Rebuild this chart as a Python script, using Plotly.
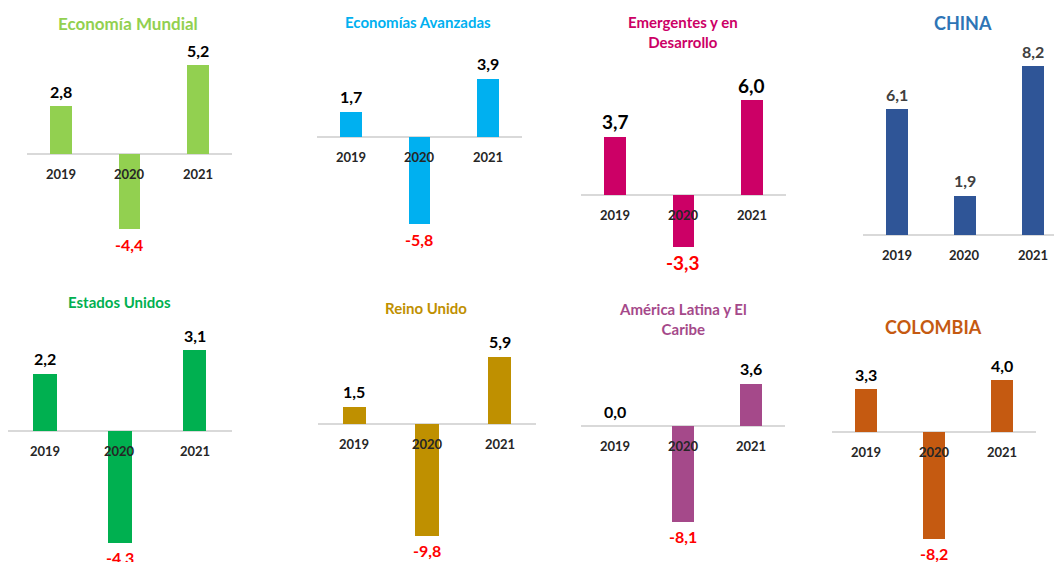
import plotly.graph_objects as go

# ---------------- data ----------------
years = ["2019", "2020", "2021"]
titles = ["Economía Mundial", "Economías Avanzadas", "Emergentes y en<br>Desarrollo", "CHINA",
          "Estados Unidos", "Reino Unido", "América Latina y El<br>Caribe", "COLOMBIA"]
economia_mundial = [2.8, -4.4, 5.2]
economias_avanzadas = [1.7, -5.8, 3.9]
emergentes_desarrollo = [3.7, -3.3, 6.0]
china = [6.1, 1.9, 8.2]
estados_unidos = [2.2, -4.3, 3.1]
reino_unido = [1.5, -9.8, 5.9]
america_latina = [0.0, -8.1, 3.6]
colombia = [3.3, -8.2, 4.0]
series = [economia_mundial, economias_avanzadas, emergentes_desarrollo, china,
          estados_unidos, reino_unido, america_latina, colombia]

# ---------------- styles / layout (pixels) ----------------
W, H = 1054, 562
bar_colors = ["#92D050", "#00B0F0", "#CC0066", "#2F5597", "#00B050", "#BF9000", "#A5498A", "#C55A11"]
title_colors = ["#92D050", "#00B0F0", "#CC0066", "#2E75B6", "#00B050", "#BF9000", "#A5498A", "#C55A11"]
panels = [
    dict(left=27, sp=68.3, zero=154, ppu=17.1, top=0, bot=280, tx=128, ty=23, ts=17, ls=16, lc="#000000"),
    dict(left=317, sp=68.3, zero=137, ppu=15.0, top=0, bot=280, tx=418, ty=22, ts=15, ls=16, lc="#000000"),
    dict(left=581, sp=68.3, zero=195, ppu=15.8, top=0, bot=280, tx=683, ty=32, ts=15, ls=19, lc="#000000"),
    dict(left=862.5, sp=68.0, zero=235, ppu=20.6, top=0, bot=280, tx=963, ty=23, ts=18, ls=16, lc="#404040"),
    dict(left=8, sp=74.6, zero=431, ppu=26.0, top=280, bot=562, tx=119, ty=302, ts=15, ls=16, lc="#000000"),
    dict(left=318, sp=72.7, zero=424, ppu=11.4, top=280, bot=562, tx=426, ty=308, ts=15, ls=16, lc="#000000"),
    dict(left=581, sp=68.0, zero=426, ppu=11.8, top=280, bot=562, tx=683, ty=319, ts=15, ls=16, lc="#000000"),
    dict(left=832, sp=68.0, zero=432, ppu=13.0, top=280, bot=562, tx=933, ty=327, ts=18, ls=16, lc="#000000"),
]
FONT = "Lato"

fig = go.Figure()
annotations = []
for i, (vals, p) in enumerate(zip(series, panels)):
    n = i + 1
    xa = "x" if n == 1 else f"x{n}"
    ya = "y" if n == 1 else f"y{n}"
    fig.add_trace(go.Bar(x=years, y=vals, width=0.32, marker=dict(color=bar_colors[i], line=dict(width=0)),
                         xaxis=xa, yaxis=ya, showlegend=False, hoverinfo="x+y"))
    right = min(p["left"] + 3 * p["sp"], W)
    xr = [-0.5, -0.5 + (right - p["left"]) / p["sp"]]
    yr = [-(p["bot"] - p["zero"]) / p["ppu"], (p["zero"] - p["top"]) / p["ppu"]]
    xkey = "xaxis" if n == 1 else f"xaxis{n}"
    ykey = "yaxis" if n == 1 else f"yaxis{n}"
    fig.layout[xkey] = dict(domain=[p["left"] / W, right / W], range=xr, type="category",
                            showgrid=False, showticklabels=False, zeroline=False, showline=False,
                            ticks="", anchor=ya, fixedrange=True)
    fig.layout[ykey] = dict(domain=[1 - p["bot"] / H, 1 - p["top"] / H], range=yr,
                            showgrid=False, showticklabels=False, zeroline=True,
                            zerolinecolor="#D9D9D9", zerolinewidth=1.5, showline=False,
                            ticks="", anchor=xa, fixedrange=True)
    annotations.append(dict(xref="paper", yref="paper", x=p["tx"] / W, y=1 - p["ty"] / H,
                            text=f"<b>{titles[i]}</b>", showarrow=False, xanchor="center",
                            yanchor="middle", font=dict(family=FONT, size=p["ts"], color=title_colors[i])))
    for k, (yr_lab, v) in enumerate(zip(years, vals)):
        txt = f"{v:.1f}".replace(".", ",")
        annotations.append(dict(xref=xa, yref=ya, x=k, y=v, text=f"<b>{txt}</b>", showarrow=False,
                                xanchor="center", yanchor="middle", yshift=15 if v >= 0 else -15,
                                font=dict(family=FONT, size=p["ls"], color=p["lc"] if v >= 0 else "#FF0000")))
        annotations.append(dict(xref=xa, yref=ya, x=k, y=0, text=f"<b>{yr_lab}</b>", showarrow=False,
                                xanchor="center", yanchor="middle", yshift=-20,
                                font=dict(family=FONT, size=13, color="#262626")))

fig.update_layout(width=W, height=H, margin=dict(l=0, r=0, t=0, b=0),
                  paper_bgcolor="white", plot_bgcolor="rgba(0,0,0,0)",
                  annotations=annotations, bargap=0)
fig.write_html("out.html", config={"displayModeBar": False},
               post_script="document.body.style.margin='0';document.body.style.overflow='hidden';")
